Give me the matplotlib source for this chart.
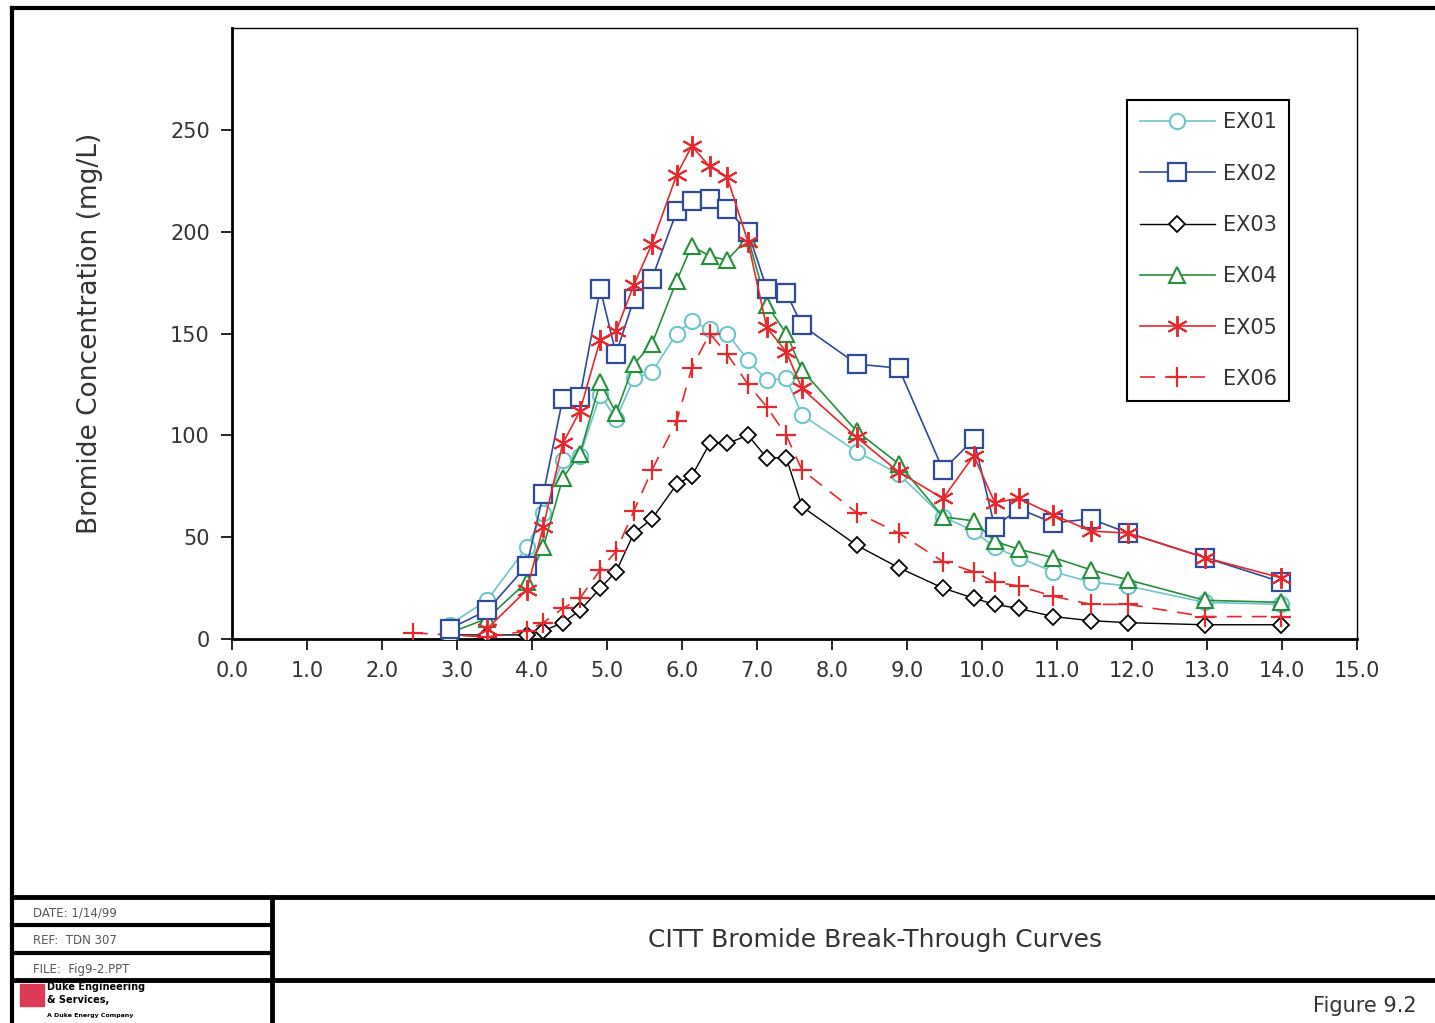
"""
CITT bromide break-through curves (Figure 9.2), redrawn from the scanned figure.
"""

import matplotlib
matplotlib.use('Agg')
import matplotlib.pyplot as plt
import numpy as np

# sampling times shared by most wells
t = [2.90, 3.40, 3.93, 4.15, 4.41, 4.64, 4.91, 5.12, 5.36, 5.60,
     5.93, 6.13, 6.37, 6.60, 6.88, 7.13, 7.39, 7.60, 8.33, 8.89,
     9.48, 9.89, 10.17, 10.49, 10.95, 11.45, 11.95, 12.97, 13.99]
t_ex05 = t[1:]
t_ex06 = [2.41] + t

# bromide concentration (mg/L)
ex01 = [7, 19, 45, 62, 88, 90, 120, 108, 128, 131,
        150, 156, 152, 150, 137, 127, 128, 110, 92, 81,
        60, 53, 45, 40, 33, 28, 26, 18, 17]
ex02 = [5, 14, 36, 71, 118, 119, 172, 140, 167, 177,
        210, 215, 216, 211, 200, 172, 170, 154, 135, 133,
        83, 98, 55, 64, 57, 59, 52, 40, 28]
ex03 = [2, 2, 2, 4, 8, 14, 25, 33, 52, 59,
        76, 80, 96, 96, 100, 89, 89, 65, 46, 35,
        25, 20, 17, 15, 11, 9, 8, 7, 7]
ex04 = [3, 10, 28, 45, 79, 91, 126, 111, 135, 145,
        176, 193, 188, 186, 197, 164, 150, 132, 102, 86,
        60, 58, 48, 44, 40, 34, 29, 19, 18]
ex05 = [5, 24, 55, 96, 112, 147, 151, 174, 194, 228,
        242, 232, 227, 195, 153, 141, 123, 99, 82, 69,
        90, 67, 69, 61, 53, 52, 40, 30]
ex06 = [3, 2, 1, 4, 8, 15, 20, 34, 43, 63,
        83, 107, 133, 150, 140, 125, 114, 100, 83, 62,
        52, 38, 33, 28, 26, 21, 17, 17, 11, 11]

x_ticks = np.arange(0, 15.5, 1.0)
y_ticks = [0, 50, 100, 150, 200, 250]

CYAN = '#6cc6cc'
BLUE = '#2d4a9c'
GREEN = '#23903a'
RED = '#e8282c'
TEXT = '#333333'

plt.rcParams['font.family'] = ['DejaVu Sans']

W, H = 1435, 1023
fig = plt.figure(figsize=(W / 100, H / 100), dpi=100)

# ---- page frame / title block (pixel coordinates) ----
frame = fig.add_axes([0, 0, 1, 1])
frame.set_xlim(0, W)
frame.set_ylim(H, 0)
frame.axis('off')

frame.plot([12, W], [8, 8], color='black', lw=3)
frame.plot([12, 12], [8, H], color='black', lw=3)
frame.plot([12, W], [897, 897], color='black', lw=3.5)
frame.plot([12, W], [980, 980], color='black', lw=3.5)
frame.plot([12, 272], [925, 925], color='black', lw=3)
frame.plot([12, 272], [953, 953], color='black', lw=3)
frame.plot([272, 272], [897, H], color='black', lw=3.5)

small = dict(fontsize=8.5, color='#555555', va='center', ha='left')
frame.text(33, 913, 'DATE: 1/14/99', **small)
frame.text(33, 941, 'REF:  TDN 307', **small)
frame.text(33, 969, 'FILE:  Fig9-2.PPT', **small)

# company logo (blurry in the scan)
frame.add_patch(plt.Rectangle((20, 984), 24, 22, color='#dd3a55'))
frame.text(47, 987, 'Duke Engineering', fontsize=7, fontweight='bold',
           va='center', ha='left')
frame.text(47, 1000, '& Services,', fontsize=7, fontweight='bold',
           va='center', ha='left')
frame.text(47, 1015, 'A Duke Energy Company', fontsize=4.5, fontweight='bold',
           va='center', ha='left')

frame.text(875, 940, 'CITT Bromide Break-Through Curves', fontsize=18,
           color=TEXT, ha='center', va='center')
frame.text(1417, 1006, 'Figure 9.2', fontsize=15, color=TEXT,
           ha='right', va='center')

# ---- chart ----
ax = fig.add_axes([232 / W, 1 - 639 / H, 1125 / W, 611 / H])

ax.plot(t, ex01, color=CYAN, lw=1.2, marker='o', ms=11, mfc='white',
        mec=CYAN, mew=1.5, label='EX01', zorder=3)
ax.plot(t, ex03, color='black', lw=1.0, marker='D', ms=8.5, mfc='white',
        mec='black', mew=1.3, label='EX03', zorder=4)
ax.plot(t_ex06, ex06, color=RED, lw=1.2, dashes=(9, 6), marker='+', ms=15,
        mew=1.6, label='EX06', zorder=4)
ax.plot(t, ex04, color=GREEN, lw=1.2, marker='^', ms=12, mfc='white',
        mec=GREEN, mew=1.5, label='EX04', zorder=5)
ax.plot(t, ex02, color=BLUE, lw=1.2, marker='s', ms=13, mfc='white',
        mec=BLUE, mew=1.6, label='EX02', zorder=6)
ax.plot(t_ex05, ex05, color=RED, lw=1.2, marker=(6, 2, 0), ms=15,
        mew=1.4, label='EX05', zorder=7)

ax.set_xlim(0, 15)
ax.set_ylim(0, 300)
ax.set_xticks(x_ticks)
ax.set_xticklabels([f'{v:.1f}' for v in x_ticks])
ax.set_yticks(y_ticks)
ax.tick_params(direction='out', length=8, width=1.2, labelsize=15,
               labelcolor=TEXT, pad=8)

for side in ['left', 'bottom']:
    ax.spines[side].set_linewidth(2)
for side in ['top', 'right']:
    ax.spines[side].set_linewidth(1)

ax.set_ylabel('Bromide Concentration (mg/L)', fontsize=19, color=TEXT)
ax.yaxis.set_label_coords((103 - 232) / 1125, 0.5)

# legend in the original order
handles, labels = ax.get_legend_handles_labels()
order = ['EX01', 'EX02', 'EX03', 'EX04', 'EX05', 'EX06']
handles = [handles[labels.index(k)] for k in order]
leg = ax.legend(handles, order, loc='upper left',
                bbox_to_anchor=((1127 - 232) / 1125, (639 - 100) / 611),
                borderaxespad=0, fontsize=15, handlelength=3.6,
                handletextpad=0.4, labelspacing=1.5, borderpad=0.6,
                fancybox=False, framealpha=1, edgecolor='black')
leg.get_frame().set_linewidth(1.5)
for txt in leg.get_texts():
    txt.set_color(TEXT)

fig.savefig('out.png', dpi=100)
